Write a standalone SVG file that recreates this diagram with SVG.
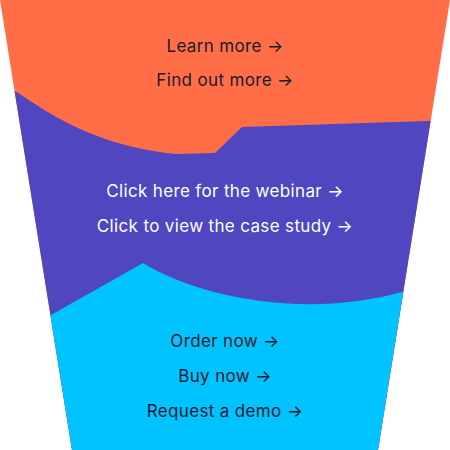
<svg xmlns="http://www.w3.org/2000/svg" width="450" height="450" viewBox="0 0 450 450">
<defs>
<clipPath id="funnel"><path d="M0,0 L450,0 L378,450 L72,450 Z"/></clipPath>
<style>
text{font-family:Inter,"Noto Sans","Liberation Sans",sans-serif;font-size:17px;letter-spacing:0.35px;text-anchor:middle}
.dark{fill:#1b1b2f}
.light{fill:#ffffff}
</style>
</defs>
<g clip-path="url(#funnel)">
<g id="stage-top"><rect x="0" y="0" width="450" height="450" fill="#ff6e47"/></g>
<g id="stage-middle"><path d="M15,91 C45,110 90,145 175,154 L215,153 L242,127 L460,120 L460,460 L-10,460 L-10,91 Z" fill="#5046bf"/></g>
<g id="stage-bottom"><path d="M-10,350 L51,315 L143,263 C195,295 300,320 402,292 L460,270 L460,460 L-10,460 Z" fill="#00c3ff"/></g>
</g>
<g id="labels-top">
<text class="dark" x="225" y="51.5">Learn more →</text>
<text class="dark" x="225" y="86">Find out more →</text>
</g>
<g id="labels-middle">
<text class="light" x="225" y="197">Click here for the webinar →</text>
<text class="light" x="225" y="232">Click to view the case study →</text>
</g>
<g id="labels-bottom">
<text class="dark" x="225" y="346.5">Order now →</text>
<text class="dark" x="225" y="381.5">Buy now →</text>
<text class="dark" x="225" y="416.5">Request a demo →</text>
</g>
<g id="connectors"/>
</svg>
